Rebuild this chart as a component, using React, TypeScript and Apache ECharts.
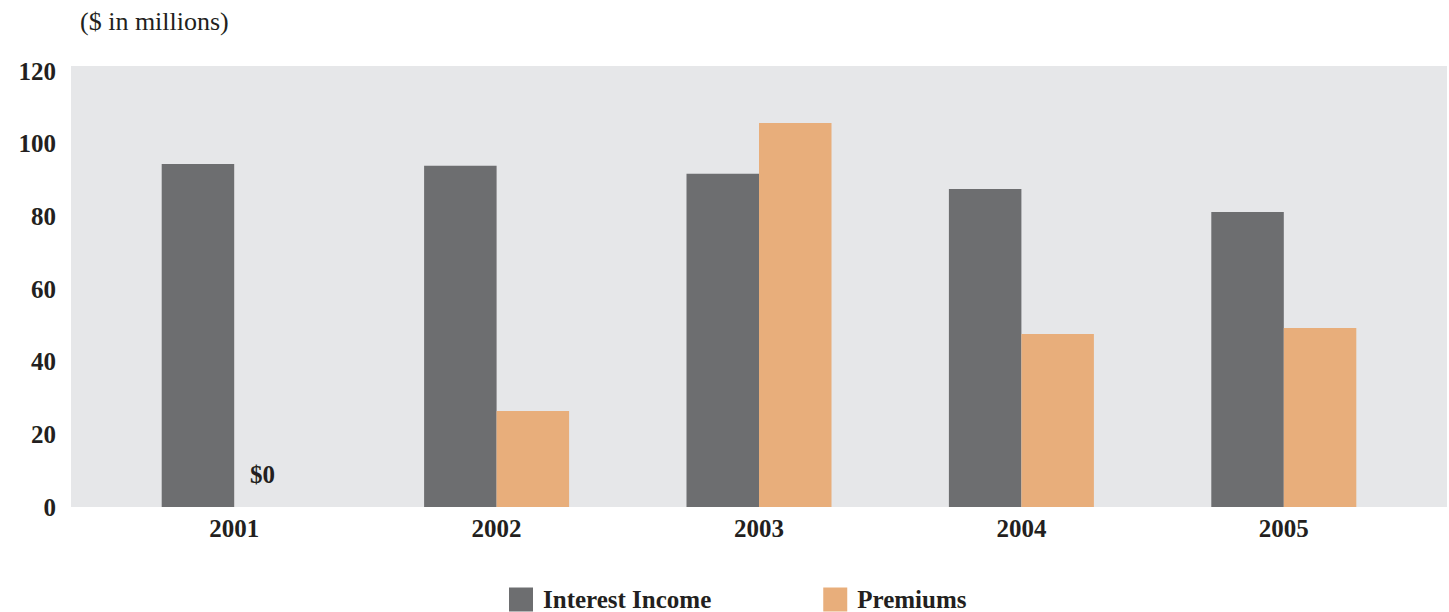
import React, { useEffect, useRef } from "react";
import * as echarts from "echarts";

const years = ["2001", "2002", "2003", "2004", "2005"];
const interestIncome = [94.4, 93.9, 91.7, 87.5, 81.2];
const premiums = [0, 26.4, 105.7, 47.6, 49.3];
const yTicks = { min: 0, max: 120, interval: 20 };
const unitLabel = "($ in millions)";

const FONT = "'Liberation Serif', 'DejaVu Serif', serif";
const TEXT = "#231f20";

export default function App() {
  const ref = useRef<HTMLDivElement>(null);
  useEffect(() => {
    if (!ref.current) return;
    const chart = echarts.init(ref.current, null, { renderer: "svg" });
    chart.setOption({
      animation: false,
      textStyle: { fontFamily: FONT },
      graphic: [
        {
          type: "rect",
          left: 71,
          top: 66,
          shape: { width: 1376, height: 441 },
          style: { fill: "#e6e7e9" },
          z: -10,
          silent: true,
        },
        {
          type: "text",
          left: 80,
          top: 8,
          style: { text: unitLabel, font: `26px ${FONT}`, fill: TEXT },
        },
      ],
      legend: {
        left: 504,
        top: 582,
        itemWidth: 24,
        itemHeight: 24,
        itemGap: 112,
        icon: "rect",
        textStyle: { fontFamily: FONT, fontSize: 25, fontWeight: "bold", color: TEXT, padding: [0, 0, 0, 5] },
        data: ["Interest Income", "Premiums"],
      },
      grid: { left: 103, right: 34, top: 71, bottom: 105, containLabel: false },
      xAxis: {
        type: "category",
        data: years,
        axisLine: { show: false },
        axisTick: { show: false },
        axisLabel: { fontFamily: FONT, fontSize: 25, fontWeight: "bold", color: TEXT, margin: 9 },
      },
      yAxis: {
        type: "value",
        min: yTicks.min,
        max: yTicks.max,
        interval: yTicks.interval,
        splitLine: { show: false },
        axisLine: { show: false },
        axisTick: { show: false },
        axisLabel: {
          fontFamily: FONT,
          fontSize: 25,
          fontWeight: "bold",
          color: TEXT,
          margin: 47,
          padding: [8, 0, 0, 0],
        },
      },
      series: [
        {
          name: "Interest Income",
          type: "bar",
          data: interestIncome,
          barWidth: 72.5,
          barGap: "0%",
          itemStyle: { color: "#6d6e70" },
        },
        {
          name: "Premiums",
          type: "bar",
          barWidth: 72.5,
          data: premiums.map((v) =>
            v === 0
              ? {
                  value: v,
                  label: {
                    show: true,
                    formatter: "$0",
                    position: "top",
                    distance: 20,
                    offset: [-8, 0],
                    fontFamily: FONT,
                    fontSize: 25,
                    fontWeight: "bold",
                    color: TEXT,
                  },
                }
              : v
          ),
          itemStyle: { color: "#e8ae7b" },
        },
      ],
    });
    return () => chart.dispose();
  }, []);
  return <div ref={ref} style={{ width: 1449, height: 612, position: "absolute", left: 0, top: 0 }} />;
}
